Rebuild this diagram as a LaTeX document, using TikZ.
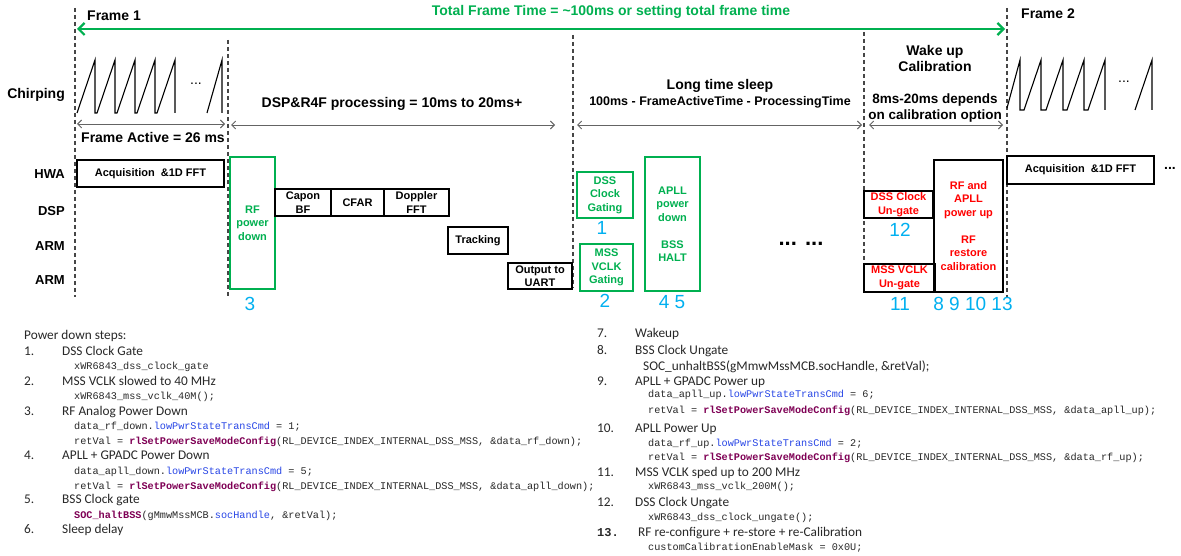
\documentclass[tikz,border=0pt]{standalone}
\usepackage{fontspec}
\setmainfont{Liberation Sans}
\newfontfamily\calfont{Carlito}
\newfontfamily\codefont{Liberation Mono}
\usetikzlibrary{arrows.meta}
\definecolor{tgreen}{RGB}{0,176,80}
\definecolor{tblue}{RGB}{0,176,240}
\definecolor{tred}{RGB}{255,0,0}
\definecolor{cblue}{RGB}{40,70,230}
\definecolor{cpurp}{RGB}{127,0,85}
\definecolor{dgray}{RGB}{70,70,70}
\definecolor{agray}{RGB}{100,100,100}
\definecolor{txtgray}{RGB}{40,40,40}
\newcommand{\kw}[1]{\textcolor{cblue}{#1}}
\newcommand{\fn}[1]{\textcolor{cpurp}{\bfseries #1}}
\tikzset{
  lbl/.style={font=\fontsize{14}{16}\selectfont\bfseries, inner sep=0pt, align=center},
  bbox/.style={draw=black, line width=1.3pt, font=\fontsize{11}{13.5}\selectfont\bfseries, align=center, inner sep=0pt},
  gbox/.style={bbox, draw=tgreen, text=tgreen},
  rbox/.style={bbox, text=tred},
  num/.style={font=\fontsize{19}{20}\selectfont, text=tblue, inner sep=0pt},
  vdash/.style={draw=dgray, line width=1.3pt, dash pattern=on 4pt off 3pt},
  garrow/.style={draw=agray, line width=0.9pt, {Straight Barb[length=4pt,width=8pt]}-{Straight Barb[length=4pt,width=8pt]}},
  chirp/.style={draw=black, line width=1.1pt, line join=miter},
  steptxt/.style={font=\fontsize{13.3}{15}\selectfont\calfont, anchor=base west, inner sep=0pt, text=txtgray},
  codetxt/.style={font=\fontsize{10.2}{12}\selectfont\codefont, anchor=base west, inner sep=0pt, text=txtgray},
}
\begin{document}
\begin{tikzpicture}[x=1pt,y=-1pt]
\useasboundingbox (0,0) rectangle (1181,556);
\fill[white] (0,0) rectangle (1181,556);

% dashed frame lines
\coordinate (d1t) at (75,8);   \coordinate (d1b) at (75,297);
\coordinate (d2t) at (228,40); \coordinate (d2b) at (228,298);
\coordinate (d3t) at (573,35); \coordinate (d3b) at (573,288);
\coordinate (d4t) at (864,32); \coordinate (d4b) at (864,292);
\coordinate (d5t) at (1007,8); \coordinate (d5b) at (1007,297);
\draw[vdash] (d1t) -- (d1b);
\draw[vdash] (d2t) -- (d2b);
\draw[vdash] (d3t) -- (d3b);
\draw[vdash] (d4t) -- (d4b);
\draw[vdash] (d5t) -- (d5b);

% total frame time arrow
\coordinate (ta) at (77,29); \coordinate (tb) at (1005,29);
\draw[tgreen, line width=2.2pt, {Straight Barb[length=6pt,width=12pt]}-{Straight Barb[length=6pt,width=12pt]}] (ta) -- (tb);
\node[lbl, text=tgreen] (total) at (611,12) {Total Frame Time = \textasciitilde100ms or setting total frame time};
\node[lbl, anchor=west] (f1) at (87,16) {Frame 1};
\node[lbl, anchor=west] (f2) at (1021,14) {Frame 2};

% chirps frame 1
\node[lbl, anchor=east] (chirp) at (65,95) {Chirping};
\draw[chirp] (77,113) -- (95,60) -- (95,113) -- (97,113) -- (115,60) -- (115,113) -- (117,113) -- (135,60) -- (135,113) -- (137,113) -- (155,60) -- (155,113) -- (157,113) -- (175,60) -- (175,113);
\draw[chirp] (207,113) -- (222,60) -- (222,113);
\node[font=\fontsize{14}{16}\selectfont, inner sep=0pt] (dots1) at (196,84) {...};
% chirps frame 2
\draw[chirp] (1007,108) -- (1020,60) -- (1020,110) -- (1024,110) -- (1041,60) -- (1041,110) -- (1046,110) -- (1063,60) -- (1063,110) -- (1067,110) -- (1084,60) -- (1084,110) -- (1088,110) -- (1105,60) -- (1105,110);
\draw[chirp] (1135,110) -- (1152,60) -- (1152,110);
\node[font=\fontsize{14}{16}\selectfont, inner sep=0pt] (dots2) at (1124,82) {...};

% gray interval arrows
\coordinate (a1l) at (77,124);  \coordinate (a1r) at (225,124);
\coordinate (a2l) at (231,125); \coordinate (a2r) at (555,125);
\coordinate (a3l) at (577,125); \coordinate (a3r) at (862,125);
\coordinate (a4l) at (869,125); \coordinate (a4r) at (1003,125);
\draw[garrow] (a1l) -- (a1r);
\draw[garrow] (a2l) -- (a2r);
\draw[garrow] (a3l) -- (a3r);
\draw[garrow] (a4l) -- (a4r);
\node[lbl] (factive) at (153,137) {Frame Active = 26 ms};
\node[lbl] (dspproc) at (392,104) {DSP\&R4F processing = 10ms to 20ms+};
\node[lbl] (sleep) at (720,86) {Long time sleep};
\node[lbl, font=\fontsize{12.5}{14}\selectfont\bfseries] (sleept) at (720,102) {100ms - FrameActiveTime - ProcessingTime};
\node[lbl] (wake) at (935,58) {Wake up\\Calibration};
\node[lbl, font=\fontsize{13.5}{16}\selectfont\bfseries] (waket) at (935,108) {8ms-20ms depends\\on calibration option};

% row labels
\node[lbl, font=\fontsize{13}{15}\selectfont\bfseries, anchor=east] (hwa) at (65,174) {HWA};
\node[lbl, font=\fontsize{13}{15}\selectfont\bfseries, anchor=east] (dsp) at (65,211) {DSP};
\node[lbl, font=\fontsize{13}{15}\selectfont\bfseries, anchor=east] (arm1) at (65,246) {ARM};
\node[lbl, font=\fontsize{13}{15}\selectfont\bfseries, anchor=east] (arm2) at (65,280) {ARM};

% boxes
\node[bbox, minimum width=147pt, minimum height=27pt] (acq1) at (150.5,173.5) {Acquisition \ \&1D FFT};
\node[gbox, minimum width=45pt, minimum height=132pt] (rfdown) at (252.5,223) {RF\\power\\down};
\node[bbox, minimum width=56pt, minimum height=27pt] (capon) at (303,202.5) {Capon\\BF};
\node[bbox, minimum width=53pt, minimum height=27pt] (cfar) at (357.5,202.5) {CFAR};
\node[bbox, minimum width=65pt, minimum height=27pt] (doppler) at (416.5,202.5) {Doppler\\FFT};
\node[bbox, minimum width=60pt, minimum height=27pt] (track) at (478,240.5) {Tracking};
\node[bbox, minimum width=64pt, minimum height=26pt] (uart) at (540,276) {Output to\\UART};
\node[gbox, minimum width=56pt, minimum height=46pt] (dssg) at (605,195) {DSS\\Clock\\Gating};
\node[gbox, minimum width=53pt, minimum height=47pt] (mssg) at (606.5,267.5) {MSS\\VCLK\\Gating};
\node[gbox, minimum width=55pt, minimum height=134pt] (apll) at (672.5,224) {APLL\\power\\down\\[13.5pt]BSS\\HALT};
\node[font=\fontsize{22}{24}\selectfont\bfseries, inner sep=0pt] (mdots) at (801,244) {... ...};
\node[rbox, minimum width=69pt, minimum height=27pt] (dssu) at (898.5,204.5) {DSS Clock\\Un-gate};
\node[rbox, minimum width=71pt, minimum height=28pt] (mssu) at (899.5,278) {MSS VCLK\\Un-gate};
\node[rbox, minimum width=69pt, minimum height=132pt] (rfup) at (968.5,226) {RF and\\APLL\\power up\\[13.5pt]RF\\restore\\calibration};
\node[bbox, minimum width=147pt, minimum height=28pt] (acq2) at (1080.5,170) {Acquisition \ \&1D FFT};
\node[font=\fontsize{14}{16}\selectfont\bfseries, inner sep=0pt, anchor=west] (edots) at (1164,168) {...};

% step numbers
\node[num] (k3) at (250,304) {3};
\node[num] (k1) at (602,228) {1};
\node[num] (k2) at (605,301) {2};
\node[num] (k45) at (672,302) {4 5};
\node[num] (k12) at (900,230) {12};
\node[num] (k11) at (900,304) {11};
\node[num] (k8) at (973,304) {8 9 10 13};

% left column text
\node[steptxt] (hd) at (24,339) {Power down steps:};
\node[steptxt] (n1) at (24,355) {1.};
\node[steptxt] (t1) at (62,355) {DSS Clock Gate};
\node[codetxt] (c1) at (74,369.5) {xWR6843\_dss\_clock\_gate};
\node[steptxt] (n2) at (24,385) {2.};
\node[steptxt] (t2) at (62,385) {MSS VCLK slowed to 40 MHz};
\node[codetxt] (c2) at (74,399.5) {xWR6843\_mss\_vclk\_40M();};
\node[steptxt] (n3) at (24,415) {3.};
\node[steptxt] (t3) at (62,415) {RF Analog Power Down};
\node[codetxt] (c3a) at (74,429.5) {data\_rf\_down.\kw{lowPwrStateTransCmd} = 1;};
\node[codetxt] (c3b) at (74,444.5) {retVal = \fn{rlSetPowerSaveModeConfig}(RL\_DEVICE\_INDEX\_INTERNAL\_DSS\_MSS, \&data\_rf\_down);};
\node[steptxt] (n4) at (24,459.5) {4.};
\node[steptxt] (t4) at (62,459.5) {APLL + GPADC Power Down};
\node[codetxt] (c4a) at (74,474) {data\_apll\_down.\kw{lowPwrStateTransCmd} = 5;};
\node[codetxt] (c4b) at (74,489) {retVal = \fn{rlSetPowerSaveModeConfig}(RL\_DEVICE\_INDEX\_INTERNAL\_DSS\_MSS, \&data\_apll\_down);};
\node[steptxt] (n5) at (24,503.5) {5.};
\node[steptxt] (t5) at (62,503.5) {BSS Clock gate};
\node[codetxt] (c5) at (74,518) {\fn{SOC\_haltBSS}(gMmwMssMCB.\kw{socHandle}, \&retVal);};
\node[steptxt] (n6) at (24,533.5) {6.};
\node[steptxt] (t6) at (62,533.5) {Sleep delay};

% right column text
\node[steptxt] (n7) at (597,337.5) {7.};
\node[steptxt] (t7) at (635,337.5) {Wakeup};
\node[steptxt] (n8) at (597,354) {8.};
\node[steptxt] (t8) at (635,354) {BSS Clock Ungate};
\node[steptxt] (c8) at (643,370) {SOC\_unhaltBSS(gMmwMssMCB.socHandle, \&retVal);};
\node[steptxt] (n9) at (597,385) {9.};
\node[steptxt] (t9) at (635,385) {APLL + GPADC Power up};
\node[codetxt] (c9a) at (648,397.5) {data\_apll\_up.\kw{lowPwrStateTransCmd} = 6;};
\node[codetxt] (c9b) at (648,413.5) {retVal = \fn{rlSetPowerSaveModeConfig}(RL\_DEVICE\_INDEX\_INTERNAL\_DSS\_MSS, \&data\_apll\_up);};
\node[steptxt] (n10) at (597,432) {10.};
\node[steptxt] (t10) at (635,432) {APLL Power Up};
\node[codetxt] (c10a) at (648,446) {data\_rf\_up.\kw{lowPwrStateTransCmd} = 2;};
\node[codetxt] (c10b) at (648,460.5) {retVal = \fn{rlSetPowerSaveModeConfig}(RL\_DEVICE\_INDEX\_INTERNAL\_DSS\_MSS, \&data\_rf\_up);};
\node[steptxt] (n11) at (597,476) {11.};
\node[steptxt] (t11) at (635,476) {MSS VCLK sped up to 200 MHz};
\node[codetxt] (c11) at (648,489.5) {xWR6843\_mss\_vclk\_200M();};
\node[steptxt] (n12) at (597,506) {12.};
\node[steptxt] (t12) at (635,506) {DSS Clock Ungate};
\node[codetxt] (c12) at (648,520.5) {xWR6843\_dss\_clock\_ungate();};
\node[codetxt, font=\fontsize{12}{14}\selectfont\codefont\bfseries] (n13) at (597,536) {13.};
\node[steptxt] (t13) at (638,536) {RF re-configure + re-store + re-Calibration};
\node[codetxt] (c13) at (648,550.5) {customCalibrationEnableMask = 0x0U;};
\end{tikzpicture}
\end{document}
